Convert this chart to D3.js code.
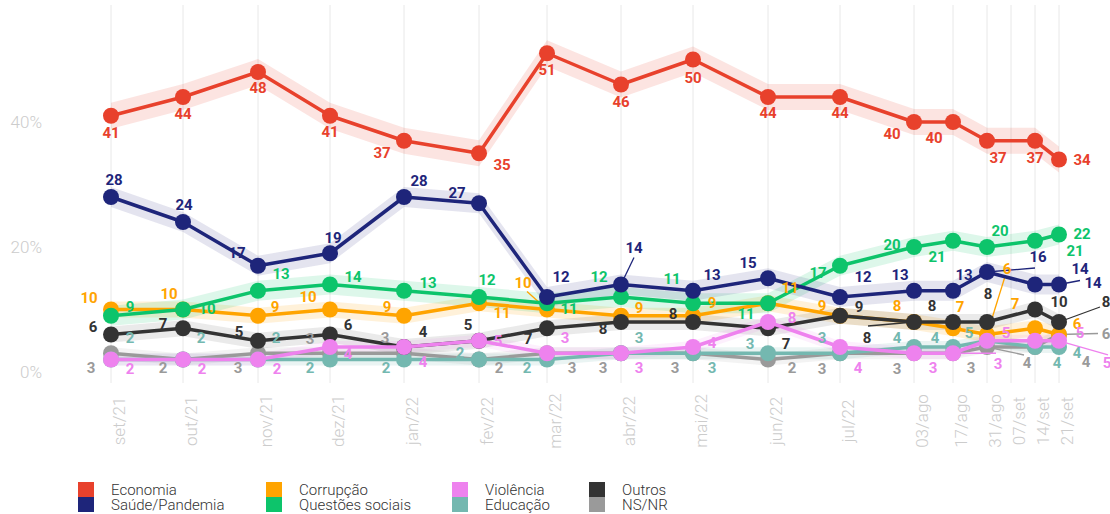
<!DOCTYPE html>
<html><head><meta charset="utf-8">
<script src="https://cdn.jsdelivr.net/npm/d3@7"></script>
<style>
body{margin:0;background:#fff}
svg{display:block;font-family:Roboto,"Noto Sans",sans-serif}
</style>
</head><body>
<svg id="chart" width="1110" height="514"></svg>
<script>
// ---- DATA ----
const tickLabels = ["set/21","out/21","nov/21","dez/21","jan/22","fev/22","mar/22","abr/22","mai/22","jun/22","jul/22","03/ago","17/ago","31/ago","07/set","14/set","21/set"];
const surveys = ["set/21","out/21","nov/21","dez/21","jan/22","fev/22","mar/22","abr/22","mai/22","jun/22","jul/22","03/ago","17/ago","31/ago","14/set","21/set"];
const economia  = [41,44,48,41,37,35,51,46,50,44,44,40,40,37,37,34];
const saude     = [28,24,17,19,28,27,12,14,13,15,12,13,13,16,14,14];
const corrupcao = [10,10,9,10,9,11,10,9,9,11,9,8,7,6,7,6];
const questoes  = [9,10,13,14,13,12,11,12,11,11,17,20,21,20,21,22];
const violencia = [2,2,2,4,4,5,3,3,4,8,4,3,3,5,5,5];
const educacao  = [2,2,2,2,2,2,2,3,3,3,3,4,4,5,4,4];
const outros    = [6,7,5,6,4,5,7,8,8,7,9,8,8,8,10,8];
const nsnr      = [3,2,3,3,3,2,3,3,3,2,3,3,3,4,4,6];
const yTicks = [0,20,40];

// ---- LAYOUT / STYLE ----
const tickX = [111,183,258,330,404,479,547,621,693,768,840,914,953,987,1011,1035,1059];
const econOff = [[0,17],[0,17],[0,16],[0,16],[-22,12],[23,11],[0,16],[0,17],[0,18],[0,16],[0,16],[-22,12],[-19,16],[11,17],[0,17],[23,0]];
const saudeOff = [[3,-17],[1,-17],[-21,-13],[3,-16],[15,-16],[-22,-11],[14,-20],[13,-37,13,-27],[19,-16],[-20,-16],[23,-20],[-14,-16],[11,-16],[51,-15,48,-4],[45,-16],[34,-2,21,-4]];
const questOff = [[19,-9],[24,-1],[23,-17],[23,-8],[24,-8],[8,-17],[22,5],[-22,-20],[-21,-25],[-22,10],[-22,7],[-22,-2],[-16,16],[13,-16],[40,10],[23,-1]];
const corrOff = [[-22,-12],[-14,-16],[17,-9],[-22,-13],[-17,-9],[23,9],[-24,-27,-20,-18],[18,-8],[19,-13],[22,-16],[-18,-10],[-17,-16],[7,-22],[20,-66,18,-58],[-20,-25],[18,-11]];
const outrosOff = [[-18,-8],[-20,-5],[-19,-9],[18,-10],[19,-15],[-11,-16],[-19,10],[-18,7],[-20,-8],[18,15],[19,-9],[-47,16,-46,4],[-21,-16],[1,-28],[24,-8],[47,-20,41,-15]];
const violOff = [[19,9],[19,9],[19,9],[18,7],[19,15],[19,0],[18,-16],[18,14],[19,-4],[24,-4],[18,21],[19,14],[45,10,43,0],[19,-8],[45,-8],[48,22,49,14]];
const educOff = [[19,-22],[18,-22],[18,-22],[-20,8],[-18,8],[-19,-7],[-20,8],[18,-16],[19,14],[-18,-10],[-18,-16],[-17,-9],[-18,-9],[-18,-8],[22,16],[18,6]];
const nsOff = [[-20,14],[-20,8],[-20,14],[-20,-15],[-19,-16],[20,8],[25,14],[-18,14],[-18,14],[24,8],[-18,15],[-17,15],[18,14],[40,16,37,8],[51,15],[47,-1,39,-1]];

const series = [
  {name:"NS/NR", values:nsnr, color:"#9a9a9a", band:6, bandOp:0.12, off:nsOff},
  {name:"Educação", values:educacao, color:"#74b8b0", band:6, bandOp:0.15, off:educOff},
  {name:"Corrupção", values:corrupcao, color:"#ffa400", band:8, bandOp:0.15, off:corrOff},
  {name:"Outros", values:outros, color:"#333333", band:8, bandOp:0.1, off:outrosOff},
  {name:"Questões sociais", values:questoes, color:"#0dc46b", band:10, bandOp:0.14, off:questOff},
  {name:"Saúde/Pandemia", values:saude, color:"#1e257a", band:10, bandOp:0.12, off:saudeOff},
  {name:"Violência", values:violencia, color:"#ee82ee", band:6, bandOp:0.12, off:violOff},
  {name:"Economia", values:economia, color:"#e8412c", band:13, bandOp:0.14, off:econOff}
];
const legendCols = [["Economia","Saúde/Pandemia"],["Corrupção","Questões sociais"],["Violência","Educação"],["Outros","NS/NR"]];
const legendX = [78,266,452,589];

const svg = d3.select("#chart");
const x = d3.scaleOrdinal(tickLabels, tickX);
const y = d3.scaleLinear().domain([0,40]).range([372,122]);

// gridlines
svg.append("g").selectAll("line").data(tickLabels).join("line")
  .attr("x1", d=>x(d)).attr("x2", d=>x(d)).attr("y1", 5).attr("y2", 383)
  .attr("stroke", "#e8e8e8").attr("stroke-width", 1);

// x labels
svg.append("g").selectAll("text").data(tickLabels).join("text")
  .attr("transform", d=>`translate(${x(d)+14},421) rotate(-90)`)
  .attr("text-anchor","middle").attr("font-size",17).attr("font-weight",300)
  .attr("fill","#cccccc").text(d=>d);

// y labels
svg.append("g").selectAll("text").data(yTicks).join("text")
  .attr("x",42).attr("y",d=>y(d)).attr("dy","0.36em").attr("text-anchor","end")
  .attr("font-size",17).attr("font-weight",300).attr("fill","#cccccc").text(d=>d+"%");

// bands
const bandG = svg.append("g");
series.forEach(s=>{
  const pts = s.values.map((v,i)=>({t:surveys[i], v}));
  const area = d3.area().x(d=>x(d.t)).y0(d=>y(d.v)+s.band).y1(d=>y(d.v)-s.band);
  bandG.append("path").datum(pts).attr("d",area).attr("fill",s.color).attr("fill-opacity",s.bandOp);
});

// lines, leaders, dots
const lineG = svg.append("g");
series.forEach(s=>{
  const pts = s.values.map((v,i)=>({t:surveys[i], v, o:s.off[i]}));
  const g = lineG.append("g");
  g.append("path").datum(pts)
    .attr("d", d3.line().x(d=>x(d.t)).y(d=>y(d.v)))
    .attr("fill","none").attr("stroke",s.color).attr("stroke-width",3.5).attr("stroke-linejoin","round");
  g.selectAll("line.leader").data(pts.filter(d=>d.o.length>2)).join("line")
    .attr("class","leader")
    .attr("x1",d=>x(d.t)).attr("y1",d=>y(d.v))
    .attr("x2",d=>x(d.t)+d.o[2]).attr("y2",d=>y(d.v)+d.o[3])
    .attr("stroke",s.color).attr("stroke-width",1.3);
  g.selectAll("circle").data(pts).join("circle")
    .attr("cx",d=>x(d.t)).attr("cy",d=>y(d.v)).attr("r",8).attr("fill",s.color);
});

// labels
const labG = svg.append("g");
series.forEach(s=>{
  const pts = s.values.map((v,i)=>({t:surveys[i], v, o:s.off[i]}));
  labG.append("g").selectAll("text").data(pts).join("text")
    .attr("x",d=>x(d.t)+d.o[0]).attr("y",d=>y(d.v)+d.o[1]).attr("dy","0.36em")
    .attr("text-anchor","middle").attr("font-size",15).attr("font-weight",700)
    .attr("fill",s.color).text(d=>d.v);
});

// legend
const colorOf = Object.fromEntries(series.map(s=>[s.name,s.color]));
const leg = svg.append("g");
legendCols.forEach((col,ci)=>{
  col.forEach((name,ri)=>{
    leg.append("rect").attr("x",legendX[ci]).attr("y",482+ri*15).attr("width",16).attr("height",15).attr("fill",colorOf[name]);
    leg.append("text").attr("x",legendX[ci]+33).attr("y",489.5+ri*15).attr("dy","0.36em")
      .attr("font-size",15).attr("font-weight",300).attr("fill","#333").text(name);
  });
});
</script>
</body></html>
